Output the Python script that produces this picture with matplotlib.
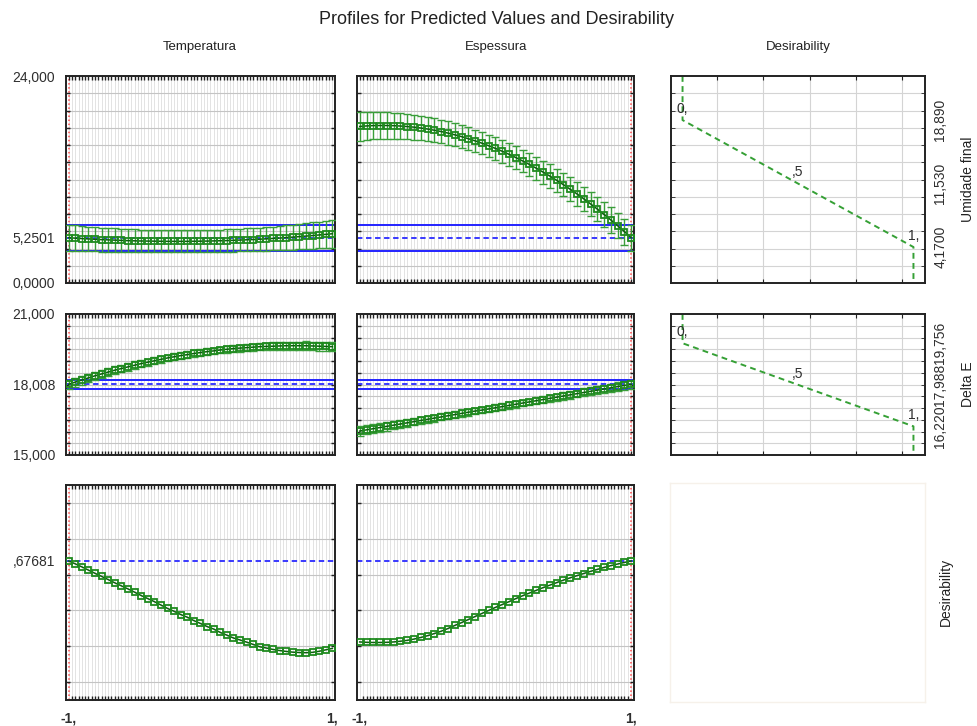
import numpy as np
import matplotlib
matplotlib.use('Agg')
import matplotlib.pyplot as plt

plt.rcParams['font.family'] = ['Liberation Sans', 'DejaVu Sans']

# factor levels (coded -1 .. 1)
levels = np.linspace(-1, 1, 41)

# Umidade final
umid_temp = [5.25, 5.20, 5.15, 5.11, 5.07, 5.03, 5.00, 4.97, 4.94, 4.91, 4.89, 4.87, 4.86, 4.85,
             4.84, 4.83, 4.83, 4.83, 4.83, 4.84, 4.85, 4.86, 4.88, 4.90, 4.92, 4.95, 4.98, 5.01,
             5.04, 5.08, 5.12, 5.17, 5.21, 5.27, 5.32, 5.38, 5.44, 5.50, 5.57, 5.64, 5.71]
umid_temp_ci = [1.50, 1.47, 1.45, 1.43, 1.41, 1.39, 1.38, 1.36, 1.35, 1.34, 1.33, 1.32, 1.31, 1.30,
                1.30, 1.29, 1.29, 1.28, 1.28, 1.28, 1.28, 1.28, 1.29, 1.29, 1.30, 1.31, 1.32, 1.33,
                1.34, 1.35, 1.36, 1.38, 1.40, 1.42, 1.44, 1.47, 1.50, 1.53, 1.56, 1.59, 1.62]
umid_esp = [18.15, 18.21, 18.25, 18.26, 18.26, 18.24, 18.20, 18.14, 18.07, 17.97, 17.85, 17.71,
            17.56, 17.38, 17.18, 16.97, 16.73, 16.48, 16.21, 15.91, 15.60, 15.27, 14.92, 14.54,
            14.15, 13.74, 13.31, 12.86, 12.40, 11.91, 11.40, 10.87, 10.33, 9.76, 9.17, 8.57,
            7.94, 7.30, 6.64, 5.95, 5.25]
umid_esp_ci = [1.65, 1.62, 1.59, 1.56, 1.53, 1.51, 1.48, 1.46, 1.44, 1.42, 1.40, 1.38, 1.37, 1.35,
               1.34, 1.33, 1.32, 1.31, 1.30, 1.30, 1.30, 1.30, 1.30, 1.31, 1.31, 1.32, 1.33, 1.34,
               1.35, 1.36, 1.37, 1.38, 1.39, 1.41, 1.42, 1.43, 1.45, 1.46, 1.47, 1.49, 1.50]

# Delta E
delta_temp = [18.01, 18.10, 18.19, 18.28, 18.37, 18.45, 18.53, 18.61, 18.68, 18.75, 18.82, 18.89,
              18.95, 19.01, 19.07, 19.13, 19.18, 19.23, 19.27, 19.32, 19.36, 19.40, 19.43, 19.47,
              19.50, 19.53, 19.55, 19.57, 19.59, 19.61, 19.62, 19.63, 19.64, 19.65, 19.65, 19.65,
              19.65, 19.64, 19.63, 19.62, 19.61]
delta_esp = [16.02, 16.07, 16.12, 16.17, 16.22, 16.27, 16.32, 16.37, 16.42, 16.47, 16.52, 16.57,
             16.62, 16.67, 16.72, 16.77, 16.82, 16.87, 16.91, 16.96, 17.01, 17.06, 17.11, 17.16,
             17.21, 17.26, 17.31, 17.36, 17.41, 17.46, 17.51, 17.56, 17.61, 17.66, 17.71, 17.76,
             17.81, 17.86, 17.91, 17.96, 18.01]
delta_ci = [0.20, 0.19, 0.19, 0.18, 0.18, 0.17, 0.17, 0.17, 0.16, 0.16, 0.16, 0.15, 0.15, 0.15,
            0.15, 0.14, 0.14, 0.14, 0.14, 0.14, 0.14, 0.14, 0.14, 0.14, 0.14, 0.14, 0.15, 0.15,
            0.15, 0.15, 0.16, 0.16, 0.16, 0.17, 0.17, 0.17, 0.18, 0.18, 0.19, 0.19, 0.20]

# overall desirability
desir_temp = [0.676, 0.660, 0.643, 0.625, 0.607, 0.590, 0.572, 0.554, 0.537, 0.520, 0.502, 0.483,
              0.466, 0.449, 0.430, 0.411, 0.395, 0.377, 0.362, 0.343, 0.327, 0.310, 0.296, 0.277,
              0.262, 0.246, 0.235, 0.223, 0.210, 0.197, 0.190, 0.182, 0.176, 0.171, 0.167, 0.165,
              0.164, 0.166, 0.172, 0.180, 0.188]
desir_esp = [0.224, 0.222, 0.221, 0.221, 0.222, 0.224, 0.228, 0.233, 0.240, 0.249, 0.259, 0.271,
             0.284, 0.299, 0.316, 0.332, 0.349, 0.366, 0.383, 0.400, 0.417, 0.433, 0.449, 0.466,
             0.482, 0.497, 0.512, 0.527, 0.541, 0.555, 0.569, 0.582, 0.594, 0.606, 0.618, 0.629,
             0.640, 0.650, 0.659, 0.668, 0.676]

# current values
cur_umid, cur_umid_ci = 5.2501, 1.5
cur_delta, cur_delta_ci = 18.008, 0.2
cur_desir = 0.67681

# desirability functions (desirability 0, .5, 1 vs response)
des_levels = [0, 0.5, 1]
umid_des = [18.89, 11.53, 4.17]
delta_des = [19.756, 17.988, 16.22]

W, H = 978, 726
fig = plt.figure(figsize=(W / 100, H / 100), dpi=100)

def px_axes(l, t, r, b):
    return fig.add_axes([l / W, 1 - b / H, (r - l) / W, (b - t) / H])

cols = [(66, 335), (357, 634), (671, 925)]
rows = [(76, 283), (314, 455), (485, 700)]
ylims = [(0, 24), (15, 21), (-0.1, 1.1)]
ygrid = [np.arange(2, 24, 2), np.arange(15.5, 21, 0.5), np.arange(0, 1.01, 0.2)]

txt_col = '#2e2e2e'
green = '#1f8a1f'


def style_frame(ax):
    for s in ax.spines.values():
        s.set_color('#222222')
        s.set_linewidth(1.4)


def profile(ax, r, y, ci, cur, cur_ci, cur_x, ylabels, xlabels):
    ax.set_xlim(-1.02, 1.02)
    ax.set_ylim(ylims[r])
    for gx in np.arange(-1, 1.001, 0.025):
        ax.axvline(gx, color='#e3e3e3', lw=0.7, zorder=0)
    ax.set_yticks(ygrid[r], minor=True)
    ax.set_xticks(np.arange(-1, 1.001, 0.025), minor=True)
    ax.grid(which='minor', axis='y', color='#c4c4c4', lw=0.8, zorder=0)
    ax.tick_params(which='minor', direction='in', length=3, width=1.0,
                   top=True, bottom=True, left=True, right=True, color='#222222')
    if ylabels:
        ax.set_yticks([v for v, _ in ylabels])
        ax.set_yticklabels([t for _, t in ylabels])
    else:
        ax.set_yticks([])
    if xlabels:
        ax.set_xticks([-1, 1])
        ax.set_xticklabels(['-1,', '1,'], fontweight='bold')
    else:
        ax.set_xticks([])
    ax.tick_params(which='major', length=0, labelsize=10, labelcolor=txt_col, pad=8)
    ax.axvline(cur_x, color='#ff4a4a', ls=':', lw=1.1, zorder=1)
    if cur_ci:
        ax.axhline(cur + cur_ci, color='#2222ff', lw=1.4, zorder=2)
        ax.axhline(cur - cur_ci, color='#2222ff', lw=1.4, zorder=2)
    ax.axhline(cur, color='#2a2aff', lw=1.3, ls=(0, (3, 2)), zorder=2)
    if ci is not None:
        ax.errorbar(levels, y, yerr=ci, fmt='none', ecolor='#3a9e3a', elinewidth=1.0,
                    capsize=2.8, capthick=1.0, zorder=3)
    ax.plot(levels, y, '-', color='#0d5e0d', lw=1.1, zorder=4)
    ax.plot(levels, y, 's', ms=4.8, mfc='none', mec=green, mew=1.3, zorder=5)
    style_frame(ax)


# row 1: Umidade final
ax = px_axes(cols[0][0], rows[0][0], cols[0][1], rows[0][1])
profile(ax, 0, umid_temp, umid_temp_ci, cur_umid, cur_umid_ci, -1,
        [(0, '0,0000'), (cur_umid, '5,2501'), (24, '24,000')], False)
ax = px_axes(cols[1][0], rows[0][0], cols[1][1], rows[0][1])
profile(ax, 0, umid_esp, umid_esp_ci, cur_umid, cur_umid_ci, 1, None, False)

# row 2: Delta E
ax = px_axes(cols[0][0], rows[1][0], cols[0][1], rows[1][1])
profile(ax, 1, delta_temp, delta_ci, cur_delta, cur_delta_ci, -1,
        [(15, '15,000'), (cur_delta, '18,008'), (21, '21,000')], False)
ax = px_axes(cols[1][0], rows[1][0], cols[1][1], rows[1][1])
profile(ax, 1, delta_esp, delta_ci, cur_delta, cur_delta_ci, 1, None, False)

# row 3: desirability
ax = px_axes(cols[0][0], rows[2][0], cols[0][1], rows[2][1])
profile(ax, 2, desir_temp, None, cur_desir, None, -1, [(cur_desir, ',67681')], True)
ax = px_axes(cols[1][0], rows[2][0], cols[1][1], rows[2][1])
profile(ax, 2, desir_esp, None, cur_desir, None, 1, None, True)


def desir_panel(ax, r, resp, labels):
    lo, hi = ylims[r]
    ax.set_xlim(-0.05, 1.05)
    ax.set_ylim(lo, hi)
    gx = [0.15, 0.35, 0.55, 0.75, 0.95]
    ax.set_xticks(gx)
    ax.set_xticklabels([])
    ax.set_yticks(ygrid[r], minor=True)
    ax.grid(which='major', axis='x', color='#d4d4d4', lw=0.8)
    ax.grid(which='minor', axis='y', color='#d4d4d4', lw=0.8)
    ax.tick_params(axis='x', direction='in', length=3, top=True, bottom=True, color='#222222')
    ax.tick_params(axis='y', which='minor', direction='in', length=3, left=True, right=True,
                   color='#222222')
    ax.set_yticks(resp)
    ax.set_yticklabels(labels)
    ax.tick_params(axis='y', which='major', length=0, left=False, right=True,
                   labelleft=False, labelright=True, labelsize=10, labelcolor=txt_col, pad=6)
    for t in ax.get_yticklabels():
        t.set_rotation(90)
        t.set_va('center')
        t.set_ha('left')
    xs = [des_levels[0]] + des_levels + [des_levels[-1]]
    ys = [hi] + list(resp) + [lo]
    ax.plot(xs, ys, color='#35a035', lw=1.4, ls=(0, (3, 2.2)))
    for d, v, s in zip(des_levels, resp, ['0,', ',5', '1,']):
        ax.annotate(s, (d, v), xytext=(0, 3), textcoords='offset points',
                    ha='center', va='bottom', fontsize=10, color=txt_col)
    style_frame(ax)


ax = px_axes(cols[2][0], rows[0][0], cols[2][1], rows[0][1])
desir_panel(ax, 0, umid_des, ['18,890', '11,530', '4,1700'])
ax = px_axes(cols[2][0], rows[1][0], cols[2][1], rows[1][1])
desir_panel(ax, 1, delta_des, ['19,756', '17,988', '16,220'])

ax = px_axes(cols[2][0] - 1, rows[2][0] - 2, cols[2][1], rows[2][1] + 2)
ax.set_xticks([])
ax.set_yticks([])
for s in ax.spines.values():
    s.set_color('#f6f1ea')
    s.set_linewidth(1.0)

# titles and labels
fig.text(497 / W, 1 - 20 / H, 'Profiles for Predicted Values and Desirability',
         ha='center', va='center', fontsize=13, color='#222222')
for x, s in [(200, 'Temperatura'), (496, 'Espessura'), (798, 'Desirability')]:
    fig.text(x / W, 1 - 47 / H, s, ha='center', va='center', fontsize=9.5, color='#222222')
fig.text(968 / W, 1 - 179 / H, 'Umidade final', rotation=90, ha='center', va='center',
         fontsize=10, color='#222222')
fig.text(968 / W, 1 - 384 / H, 'Delta E', rotation=90, ha='center', va='center',
         fontsize=10, color='#222222')
fig.text(946 / W, 1 - 592 / H, 'Desirability', rotation=90, ha='center', va='center',
         fontsize=10, color='#222222')

fig.savefig('out.png', dpi=100)
